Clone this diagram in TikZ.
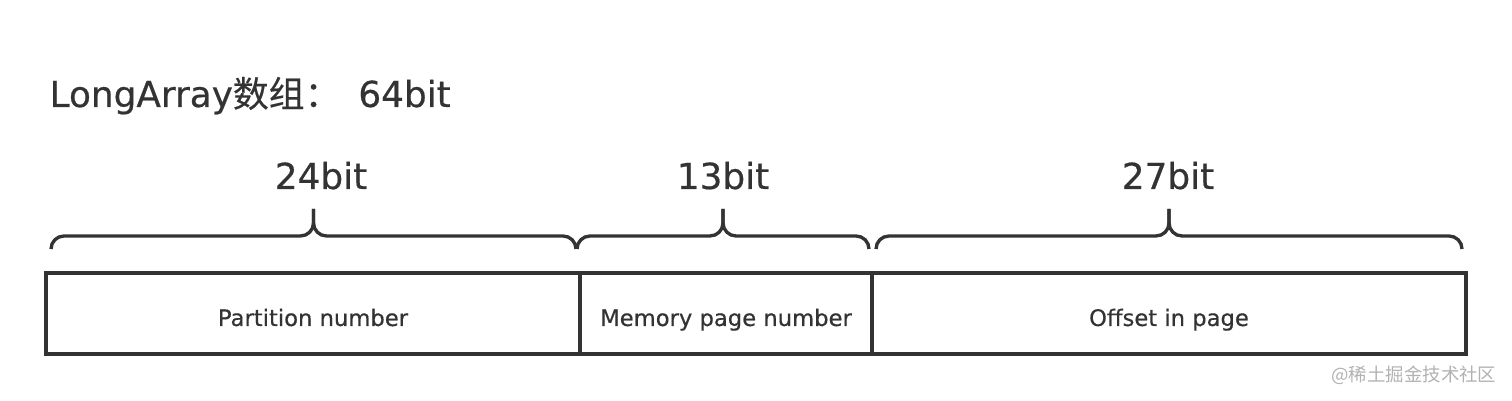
\documentclass[tikz,border=0pt]{standalone}
\usepackage{fontspec}
\setmainfont{DejaVu Sans}[FakeBold=0.5]
\newfontfamily\cjk{Noto Sans CJK SC}[FakeBold=0.4]
\newfontfamily\wmfont{Noto Sans CJK SC}
\definecolor{ink}{RGB}{51,51,51}
\definecolor{wmgray}{RGB}{178,178,178}

\begin{document}
\begin{tikzpicture}[x=0.02cm, y=-0.02cm, line width=1.9pt, draw=ink, text=ink,
    field/.style={draw, minimum height=1.62cm, inner sep=0pt, text height=14.2pt, text depth=0pt,
        font=\fontsize{12.9pt}{15pt}\selectfont},
    bitbrace/.style={rounded corners=0.26cm},
    bitlabel/.style={anchor=base, inner sep=0pt, font=\fontsize{20.4pt}{24pt}\selectfont}]
    \useasboundingbox (0,0) rectangle (1512,401);
    % Tiêu đề
    \node[anchor=base west, inner sep=0pt, font=\fontsize{20.4pt}{24pt}\selectfont] (title) at (48,107)
        {LongArray{\cjk 数组：}\hspace{0.5em}64bit};
    % Ba trường của số 64 bit
    \node[field, minimum width=10.68cm] (pn) at (313,313.5) {Partition number};
    \node[field, minimum width=5.84cm] (mpn) at (726,313.5) {Memory page number};
    \node[field, minimum width=11.88cm] (oip) at (1169,313.5) {Offset in page};
    % Dấu ngoặc và số bit
    \foreach \l/\m/\r/\t/\bits in {51/313.5/576/321/24, 577/723/869/723/13, 876/1169/1462/1168/27} {
        \draw[bitbrace] (\l,249) -- (\l,236) -- (\m,236) -- (\m,209);
        \draw[bitbrace] (\m,209) -- (\m,236) -- (\r,236) -- (\r,249);
        \node[bitlabel] (lbl\bits) at (\t,189) {\bits bit};
    }
    % Chữ ký
    \node[anchor=east, inner sep=0pt, text=wmgray, font=\wmfont\fontsize{10.5pt}{12pt}\selectfont] (wm) at (1498,375)
        {@稀土掘金技术社区};
\end{tikzpicture}
\end{document}
